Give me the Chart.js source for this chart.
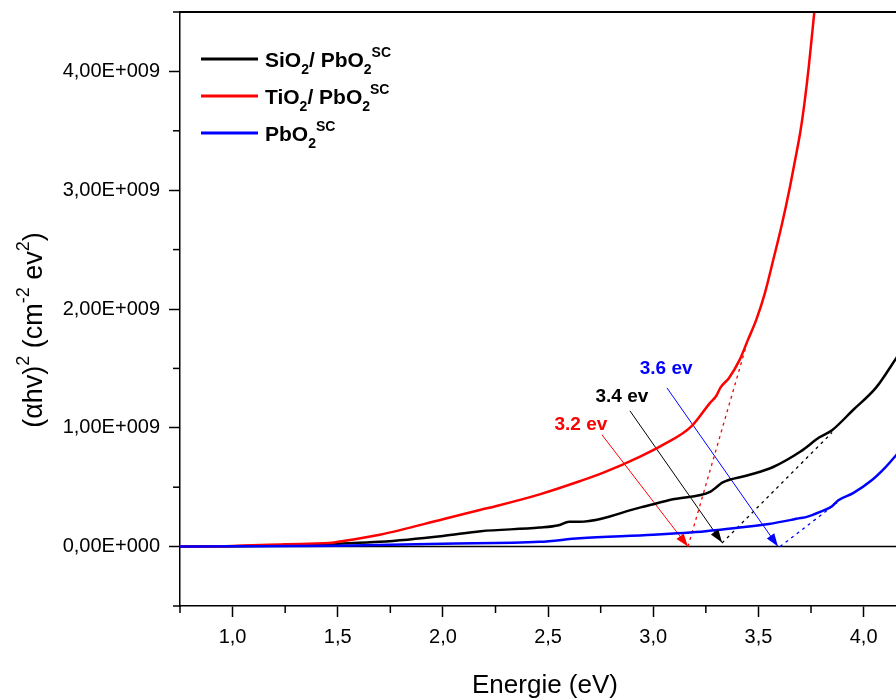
<!DOCTYPE html>
<html>
<head>
<meta charset="utf-8">
<script src="https://cdn.jsdelivr.net/npm/chart.js@4.4.0/dist/chart.umd.min.js"></script>
<style>
  html, body { margin: 0; padding: 0; background: #fff; }
</style>
</head>
<body>
<canvas id="tauc" width="896" height="700"></canvas>
<script>
// Tauc plot, values in 1E+009 cm^-2 eV^2
const sio2Energy = [0.75, 1.0, 1.25, 1.5, 1.7, 2.0, 2.18, 2.46, 2.55, 2.6, 2.65, 2.94, 3.1, 3.27, 3.3, 3.33, 3.45, 3.57, 3.7, 3.79, 3.85, 3.95, 4.06, 4.16];
const sio2Values = [0, 0.003, 0.01, 0.025, 0.04, 0.09, 0.13, 0.16, 0.18, 0.21, 0.21, 0.33, 0.4, 0.46, 0.5, 0.54, 0.6, 0.67, 0.8, 0.92, 0.98, 1.15, 1.34, 1.6];

const tio2Energy = [0.75, 1.0, 1.25, 1.46, 1.5, 1.7, 2.0, 2.18, 2.25, 2.46, 2.65, 2.76, 2.94, 3.05, 3.18, 3.27, 3.3, 3.32, 3.36, 3.41, 3.45, 3.49, 3.53, 3.57, 3.61, 3.65, 3.675, 3.7, 3.72, 3.74, 3.76, 3.78];
const tio2Values = [0, 0.005, 0.02, 0.03, 0.04, 0.1, 0.23, 0.31, 0.34, 0.44, 0.55, 0.62, 0.76, 0.86, 1.01, 1.21, 1.27, 1.34, 1.42, 1.57, 1.74, 1.91, 2.13, 2.41, 2.7, 3.03, 3.26, 3.5, 3.75, 4.05, 4.4, 4.75];

const pbo2Energy = [0.75, 1.0, 1.5, 2.0, 2.46, 2.65, 3.0, 3.25, 3.41, 3.55, 3.7, 3.73, 3.79, 3.85, 3.88, 3.95, 4.04, 4.1, 4.16];
const pbo2Values = [0, 0.002, 0.008, 0.025, 0.04, 0.07, 0.1, 0.13, 0.16, 0.19, 0.24, 0.25, 0.29, 0.34, 0.39, 0.45, 0.56, 0.66, 0.78];

// tangent extrapolations (start on the energy axis, end on the curve)
const tangentStart = [[3.165, 0], [3.327, 0.03], [3.603, 0]];
const tangentEnd   = [[3.45, 1.74], [3.85, 0.96], [3.874, 0.37]];

// gap annotations: text, label anchor, arrow tail, arrow tip
const gapLabels  = ['3.2 ev', '3.4 ev', '3.6 ev'];
const labelAt    = [[2.656, 1.025], [2.851, 1.26], [3.061, 1.496]];
const arrowFrom  = [[2.756, 0.941], [2.889, 1.143], [3.065, 1.336]];
const arrowTo    = [[3.165, 0], [3.327, 0.034], [3.593, 0]];

const seriesNames = [
    [['SiO', ''], ['2', 'sub'], ['/ PbO', ''], ['2', 'sub'], ['SC', 'sup']],
    [['TiO', ''], ['2', 'sub'], ['/ PbO', ''], ['2', 'sub'], ['SC', 'sup']],
    [['PbO', ''], ['2', 'sub'], ['SC', 'sup']],
];

const xMajorTicks = [1.0, 1.5, 2.0, 2.5, 3.0, 3.5, 4.0];
const xMinorTicks = [0.75, 1.25, 1.75, 2.25, 2.75, 3.25, 3.75];
const yMajorTicks = [0, 1, 2, 3, 4];
const yMinorTicks = [-0.5, 0.5, 1.5, 2.5, 3.5, 4.5];

const FONT = '"Liberation Sans", Arial, sans-serif';
const gapColors = ['#ff0000', '#000000', '#0000ff'];
const lineColors = ['#000000', '#ff0000', '#0000ff'];

const toPoints = (xs, ys) => xs.map((x, i) => ({ x, y: ys[i] }));
const pair = (a, b) => [{ x: a[0], y: a[1] }, { x: b[0], y: b[1] }];

function drawRich(ctx, parts, x, y, size, weight, align) {
    const fontFor = kind => `${weight} ${kind ? Math.round(size * 0.68) : size}px ${FONT}`;
    let total = 0;
    parts.forEach(([t, kind]) => { ctx.font = fontFor(kind); total += ctx.measureText(t).width; });
    let cx = align === 'center' ? x - total / 2 : x;
    ctx.textAlign = 'left';
    ctx.textBaseline = 'alphabetic';
    parts.forEach(([t, kind]) => {
        ctx.font = fontFor(kind);
        const dy = kind === 'sub' ? size * 0.32 : kind === 'sup' ? -size * 0.5 : 0;
        ctx.fillText(t, cx, y + dy);
        cx += ctx.measureText(t).width;
    });
}

const decor = {
    id: 'decor',
    afterDraw(chart) {
        const { ctx, chartArea: a, scales: { x, y } } = chart;
        ctx.save();

        // top frame
        ctx.strokeStyle = '#000';
        ctx.lineWidth = 2;
        ctx.beginPath(); ctx.moveTo(a.left, a.top); ctx.lineTo(a.right, a.top); ctx.stroke();

        // minor ticks
        ctx.lineWidth = 1.5;
        xMinorTicks.forEach(v => {
            const px = x.getPixelForValue(v);
            ctx.beginPath(); ctx.moveTo(px, a.bottom); ctx.lineTo(px, a.bottom + 7); ctx.stroke();
        });
        yMinorTicks.forEach(v => {
            const py = y.getPixelForValue(v);
            ctx.beginPath(); ctx.moveTo(a.left, py); ctx.lineTo(a.left - 7, py); ctx.stroke();
        });

        // arrowheads + gap labels
        gapLabels.forEach((txt, i) => {
            const x1 = x.getPixelForValue(arrowFrom[i][0]), y1 = y.getPixelForValue(arrowFrom[i][1]);
            const x2 = x.getPixelForValue(arrowTo[i][0]),   y2 = y.getPixelForValue(arrowTo[i][1]);
            const ang = Math.atan2(y2 - y1, x2 - x1);
            const len = 13, half = 4.5;
            ctx.fillStyle = gapColors[i];
            ctx.beginPath();
            ctx.moveTo(x2, y2);
            ctx.lineTo(x2 - len * Math.cos(ang) + half * Math.sin(ang), y2 - len * Math.sin(ang) - half * Math.cos(ang));
            ctx.lineTo(x2 - len * Math.cos(ang) - half * Math.sin(ang), y2 - len * Math.sin(ang) + half * Math.cos(ang));
            ctx.closePath();
            ctx.fill();

            ctx.font = `bold 19px ${FONT}`;
            ctx.textAlign = 'center';
            ctx.textBaseline = 'middle';
            ctx.fillText(txt, x.getPixelForValue(labelAt[i][0]), y.getPixelForValue(labelAt[i][1]));
        });

        // legend
        const legendY = [59, 96, 133];
        seriesNames.forEach((parts, i) => {
            ctx.strokeStyle = lineColors[i];
            ctx.lineWidth = 3;
            ctx.beginPath(); ctx.moveTo(201, legendY[i]); ctx.lineTo(258, legendY[i]); ctx.stroke();
            ctx.fillStyle = '#000';
            drawRich(ctx, parts, 265, legendY[i] + 8, 21, 'bold', 'left');
        });

        // axis titles
        ctx.fillStyle = '#000';
        ctx.font = `26px ${FONT}`;
        ctx.textAlign = 'center';
        ctx.textBaseline = 'middle';
        ctx.fillText('Energie (eV)', 545, 686);

        ctx.translate(33, 330);
        ctx.rotate(-Math.PI / 2);
        drawRich(ctx, [['(\u03b1hv)', ''], ['2', 'sup'], [' (cm', ''], ['-2', 'sup'], [' ev', ''], ['2', 'sup'], [')', '']], 0, 9, 27, 'normal', 'center');

        ctx.restore();
    },
};

const curve = (data, color) => ({
    data, borderColor: color, borderWidth: 2.5, pointRadius: 0,
    cubicInterpolationMode: 'monotone', fill: false,
});
const dotted = (data, color) => ({
    data, borderColor: color, borderWidth: 1.3, borderDash: [3, 4], pointRadius: 0, fill: false,
});
const arrow = (data, color) => ({
    data, borderColor: color, borderWidth: 1, pointRadius: 0, fill: false,
});

new Chart(document.getElementById('tauc'), {
    type: 'line',
    data: {
        datasets: [
            curve(toPoints(pbo2Energy, pbo2Values), '#0000ff'),
            curve(toPoints(tio2Energy, tio2Values), '#ff0000'),
            curve(toPoints(sio2Energy, sio2Values), '#000000'),
            dotted(pair(tangentStart[0], tangentEnd[0]), '#ff0000'),
            dotted(pair(tangentStart[1], tangentEnd[1]), '#000000'),
            dotted(pair(tangentStart[2], tangentEnd[2]), '#0000ff'),
            arrow(pair(arrowFrom[0], arrowTo[0]), '#ff0000'),
            arrow(pair(arrowFrom[1], arrowTo[1]), '#000000'),
            arrow(pair(arrowFrom[2], arrowTo[2]), '#0000ff'),
            { data: [{ x: 0.75, y: 0 }, { x: 4.2, y: 0 }], borderColor: '#000', borderWidth: 1.5, pointRadius: 0 },
        ],
    },
    options: {
        responsive: false,
        animation: false,
        layout: { padding: { top: 12, right: 0, left: 0, bottom: 0 } },
        plugins: { legend: { display: false }, tooltip: { enabled: false } },
        scales: {
            x: {
                type: 'linear',
                min: 0.75,
                max: 4.154,
                afterBuildTicks: s => { s.ticks = xMajorTicks.map(v => ({ value: v })); },
                afterFit: s => { s.height = 94; s.paddingLeft = 0; s.paddingRight = 0; },
                border: { display: true, color: '#000', width: 1.5 },
                grid: { drawOnChartArea: false, drawTicks: true, tickLength: 11, tickColor: '#000', tickWidth: 1.5 },
                ticks: {
                    autoSkip: false, maxRotation: 0, padding: 8, color: '#000',
                    font: { family: FONT, size: 20 },
                    callback: v => v.toFixed(1).replace('.', ','),
                },
            },
            y: {
                type: 'linear',
                min: -0.5,
                max: 4.5,
                afterBuildTicks: s => { s.ticks = yMajorTicks.map(v => ({ value: v })); },
                afterFit: s => { s.width = 180; s.paddingTop = 0; s.paddingBottom = 0; },
                border: { display: true, color: '#000', width: 1.5 },
                grid: { drawOnChartArea: false, drawTicks: true, tickLength: 11, tickColor: '#000', tickWidth: 1.5 },
                ticks: {
                    autoSkip: false, padding: 9, color: '#000',
                    font: { family: FONT, size: 20 },
                    callback: v => v === 0 ? '0,00E+000' : v.toFixed(2).replace('.', ',') + 'E+009',
                },
            },
        },
    },
    plugins: [decor],
});
</script>
</body>
</html>
